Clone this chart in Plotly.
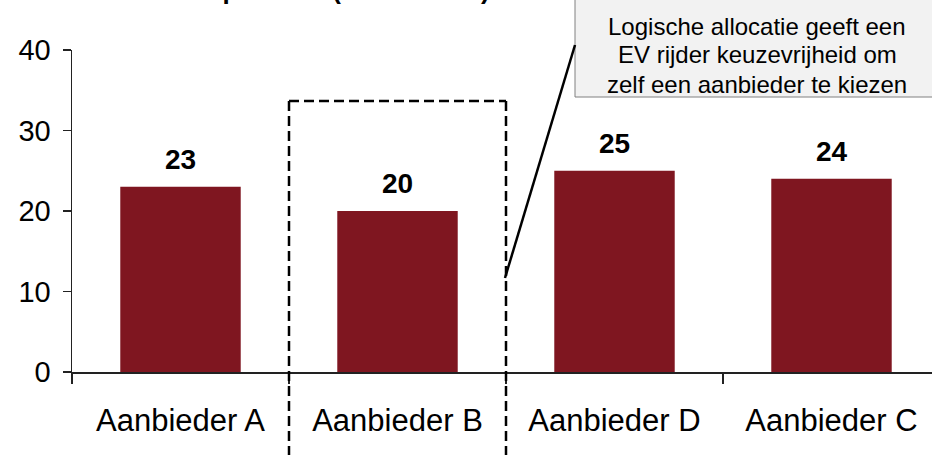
import plotly.graph_objects as go

categories = ["Aanbieder A", "Aanbieder B", "Aanbieder D", "Aanbieder C"]
values = [23, 20, 25, 24]
y_ticks = [0, 10, 20, 30, 40]
title_text = "Gemiddeld tarief per kWh (in eurocent)"
callout_lines = ["Logische allocatie geeft een", "EV rijder keuzevrijheid om", "zelf een aanbieder te kiezen"]

FONT = "Arial, Liberation Sans, Helvetica, sans-serif"
W, H = 932, 455
ML, MT, MB = 72, 50, 83
PW, PH = W - ML, H - MT - MB
CAT_PX = 217
x_range = [-0.5, -0.5 + PW / CAT_PX]


def fx(px):
    return (px - ML) / PW


def fy(py):
    return (MT + PH - py) / PH


fig = go.Figure()
fig.add_trace(go.Bar(
    x=categories, y=values,
    marker=dict(color="#7F1620", line=dict(width=0)),
    width=0.555, hoverinfo="skip",
))

annotations = []
for c, v in zip(categories, values):
    annotations.append(dict(
        x=c, y=v, xref="x", yref="y", text=f"<b>{v}</b>", showarrow=False,
        yanchor="bottom", xanchor="center", yshift=10,
        font=dict(family=FONT, size=28, color="black"),
    ))

annotations.append(dict(
    x=fx(8), y=fy(7), xref="paper", yref="paper", text=f"<b>{title_text}</b>",
    showarrow=False, xanchor="left", yanchor="bottom",
    font=dict(family=FONT, size=26, color="black"),
))
for line, py in zip(callout_lines, [26, 55, 84]):
    annotations.append(dict(
        x=fx(757), y=fy(py), xref="paper", yref="paper", text=line,
        showarrow=False, xanchor="center", yanchor="middle", align="center",
        font=dict(family=FONT, size=24, color="black"),
    ))

b1 = (0.5 - x_range[0]) / (x_range[1] - x_range[0])
b2 = (1.5 - x_range[0]) / (x_range[1] - x_range[0])
dash = dict(color="black", width=2.5, dash="10px,5px")
shapes = [
    dict(type="line", xref="x domain", yref="y domain", x0=b1, x1=b1, y0=fy(101), y1=fy(470), line=dash),
    dict(type="line", xref="x domain", yref="y domain", x0=b2, x1=b2, y0=fy(101), y1=fy(470), line=dash),
    dict(type="line", xref="x domain", yref="y domain", x0=b1, x1=b2, y0=fy(101), y1=fy(101), line=dash),
    dict(type="rect", xref="x domain", yref="y domain", x0=fx(575), x1=fx(950), y0=fy(97), y1=fy(-10),
         fillcolor="#F2F2F2", line=dict(color="#808080", width=1)),
    dict(type="line", xref="x domain", yref="y domain", x0=fx(505), x1=fx(575), y0=fy(278), y1=fy(45),
         line=dict(color="black", width=2.5)),
]

fig.update_layout(
    width=W, height=H,
    margin=dict(l=ML, r=0, t=MT, b=MB, pad=0),
    paper_bgcolor="white", plot_bgcolor="white",
    showlegend=False,
    annotations=annotations, shapes=shapes,
    font=dict(family=FONT, color="black"),
)
fig.update_xaxes(
    range=x_range, showgrid=False, zeroline=False,
    showline=True, linecolor="#222222", linewidth=1.5,
    ticks="outside", tickson="boundaries", ticklen=10, tickcolor="#222222", tickwidth=1.5,
    tickfont=dict(family=FONT, size=31, color="black"), ticklabelstandoff=20,
)
fig.update_yaxes(
    range=[0, 40], tickvals=y_ticks, showgrid=False, zeroline=False,
    showline=True, linecolor="#222222", linewidth=1.5,
    ticks="outside", ticklen=8, tickcolor="#222222", tickwidth=1.5,
    tickfont=dict(family=FONT, size=29, color="black"), ticklabelstandoff=6,
)

fig.write_html(
    "out.html",
    config={"displayModeBar": False, "staticPlot": True},
    post_script="document.body.style.margin='0';document.body.style.overflow='hidden';",
)
